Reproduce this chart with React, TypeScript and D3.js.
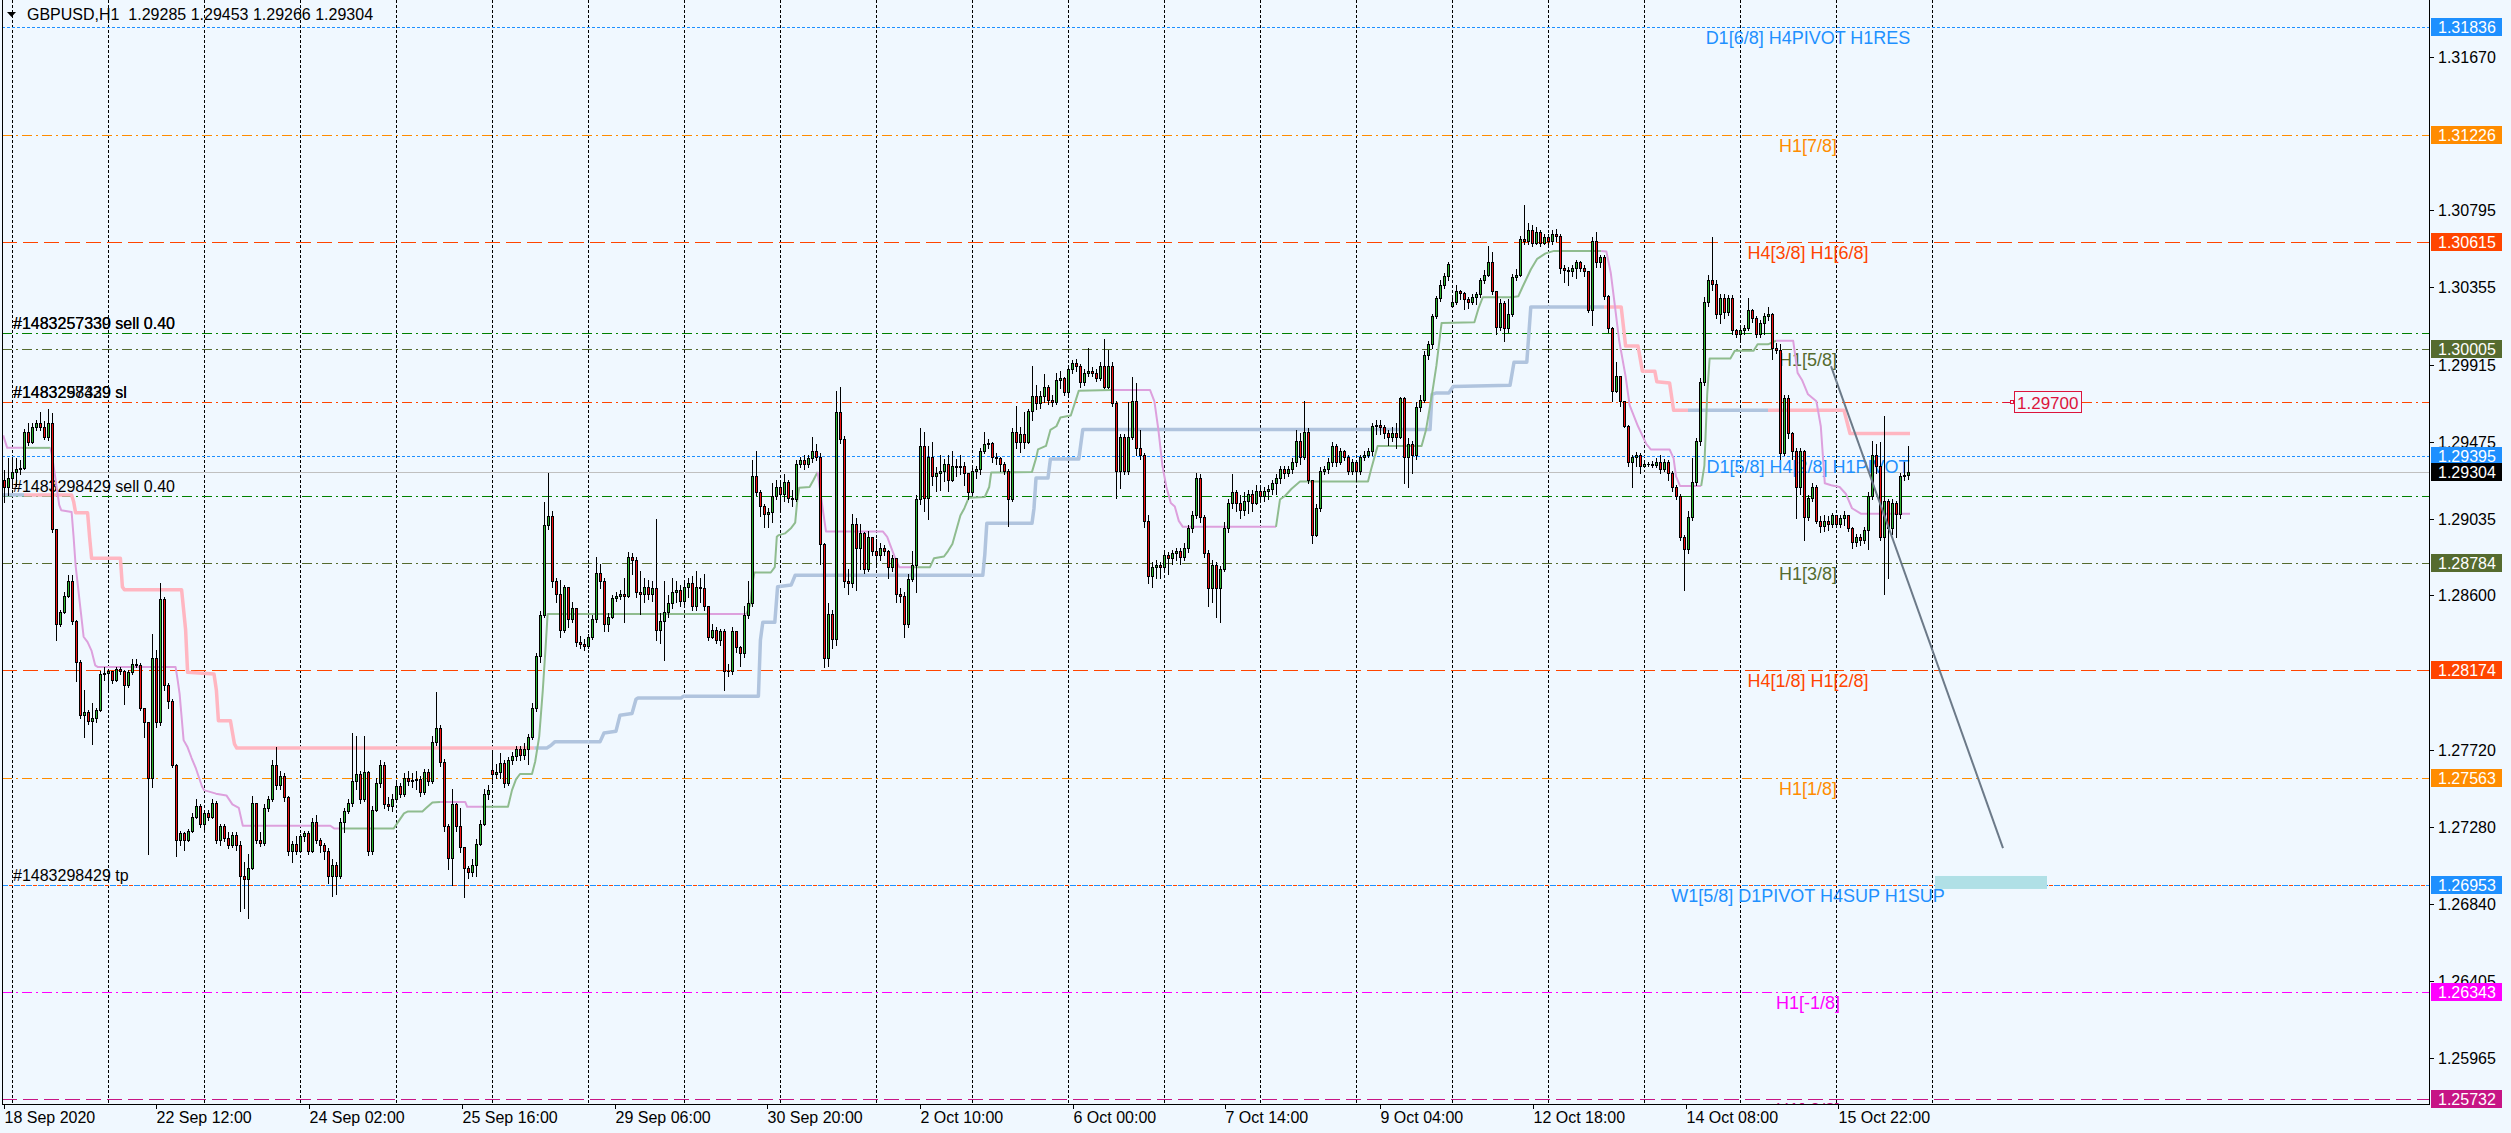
import React from "react";
import * as d3 from "d3";

const WIDTH = 2511;
const HEIGHT = 1133;
const FONT = "'Liberation Sans', Arial, sans-serif";

// ---------- data (prices as points above 1.20000, 1 point = 0.00001) ----------
const PRICE_BASE = 1.2;
const POINT = 0.00001;
const FIRST_BAR = -2; // bar index of the first candle (bar 0 = 21 Sep 00:00)
const firstOpenPts = 9258;
const gapOpens: [number, number][] = [[120, 7603], [360, 10250]];

const closePts = [
  9218,9270,9306,9320,9326,9533,9476,9562,9584,9560,
  9505,9584,8978,8436,8507,8598,8680,8456,8223,7918,
  7935,7887,7900,7948,8151,8160,8172,8121,8182,8172,
  8090,8162,8212,8205,7958,7877,7562,8243,7877,8578,
  8090,7999,7634,7207,7248,7207,7258,7339,7400,7298,
  7359,7340,7420,7207,7288,7217,7177,7238,7177,7004,
  6984,7045,7420,7207,7190,7390,7441,7634,7522,7573,
  7451,7146,7187,7146,7227,7248,7146,7309,7207,7177,
  7146,7004,7065,7004,7309,7370,7420,7542,7583,7441,
  7593,7146,7380,7532,7634,7410,7400,7441,7512,7471,
  7562,7542,7548,7555,7481,7593,7542,7766,7847,7654,
  7288,7106,7410,7288,7166,7045,7024,7065,7187,7298,
  7471,7490,7583,7593,7644,7532,7664,7684,7725,7694,
  7725,7796,7958,8253,8486,9004,9055,8680,8608,8405,
  8649,8466,8527,8334,8324,8314,8365,8466,8730,8680,
  8436,8476,8588,8598,8608,8598,8822,8802,8619,8609,
  8650,8609,8640,8406,8457,8507,8558,8619,8629,8568,
  8649,8670,8538,8650,8640,8538,8365,8406,8345,8396,
  8172,8172,8396,8304,8274,8487,8558,9279,9188,9107,
  9066,9076,9168,9218,9178,9249,9157,9147,9350,9371,
  9350,9381,9421,9391,8893,8243,8497,8350,9645,9493,
  8680,8670,9005,8873,8955,8751,8934,8853,8833,8873,
  8853,8761,8812,8609,8599,8436,8694,8772,9147,9452,
  9157,9391,9279,9300,9310,9350,9259,9340,9330,9335,
  9300,9188,9310,9320,9421,9462,9470,9391,9385,9350,
  9310,9147,9533,9472,9520,9472,9649,9736,9696,9736,
  9787,9716,9700,9828,9840,9757,9889,9923,9905,9818,
  9868,9878,9868,9838,9909,9787,9909,9696,9310,9503,
  9310,9503,9706,9442,9401,9025,8711,8760,8772,8760,
  8833,8812,8843,8853,8822,8873,8985,9056,9269,9046,
  8843,8640,8772,8640,8751,8985,9127,9188,9127,9086,
  9137,9178,9127,9198,9168,9198,9208,9239,9270,9320,
  9300,9320,9361,9482,9391,9533,9259,8944,9097,9310,
  9320,9361,9452,9361,9421,9391,9310,9361,9310,9391,
  9401,9421,9564,9574,9560,9523,9503,9523,9503,9726,
  9391,9462,9400,9675,9716,9970,10031,10193,10295,10366,
  10421,10488,10274,10335,10325,10290,10274,10300,10315,10396,
  10427,10498,10335,10132,10264,10122,10203,10417,10427,10630,
  10620,10681,10610,10670,10610,10640,10620,10660,10650,10467,
  10457,10447,10467,10498,10467,10447,10224,10620,10498,10528,
  10305,10122,9767,9848,9706,9564,9361,9391,9401,9340,
  9350,9350,9345,9361,9320,9361,9300,9218,9168,8934,
  8863,9046,9249,9482,9818,10274,10396,10376,10203,10295,
  10214,10295,10112,10092,10112,10122,10224,10183,10092,10153,
  10193,10203,10010,10000,9411,9726,9523,9421,9218,9421,
  9046,9157,9218,9025,8995,9025,9005,9056,9005,9040,
  9056,8985,8904,8934,8914,8975,9168,9401,9340,8934,
  9137,8985,9127,9066,9279,9285,9304,
];

const highPts = [
  9315,9383,9383,9383,9370,9548,9582,9582,9600,9647,
  9596,9662,9639,8980,8520,8620,8714,8714,8460,8230,
  8060,7950,7990,7960,8170,8190,8182,8170,8190,8190,
  8175,8175,8240,8240,8215,7960,7880,8380,8290,8669,
  8590,8100,8010,7640,7260,7250,7270,7360,7440,7410,
  7370,7380,7440,7430,7300,7300,7250,7250,7250,7200,
  7080,7130,7460,7360,7250,7410,7460,7660,7735,7600,
  7590,7460,7200,7230,7240,7260,7260,7330,7350,7220,
  7190,7160,7100,7080,7330,7390,7440,7816,7800,7600,
  7800,7600,7400,7560,7660,7650,7450,7470,7540,7530,
  7590,7600,7590,7600,7570,7610,7610,7800,8050,7860,
  7670,7300,7500,7420,7390,7160,7060,7100,7210,7320,
  7500,7520,7710,7640,7700,7660,7680,7710,7740,7740,
  7760,7810,7990,8270,8510,9130,9299,9080,8700,8690,
  8660,8600,8560,8530,8370,8350,8380,8490,8820,8780,
  8700,8500,8600,8620,8630,8700,8850,8840,8820,8740,
  8700,8690,8680,9036,8500,8680,8600,8700,8680,8660,
  8690,8700,8710,8740,8700,8720,8540,8440,8420,8410,
  8410,8210,8420,8400,8310,8540,8680,9371,9421,9200,
  9120,9100,9239,9259,9239,9290,9260,9200,9371,9390,
  9401,9401,9503,9462,9411,8900,8558,8520,9767,9787,
  9510,8751,9066,9040,9010,8960,8970,8920,8920,8900,
  8890,8860,8830,8800,8640,8620,8720,8853,9170,9553,
  9533,9452,9472,9330,9401,9380,9400,9421,9380,9400,
  9360,9300,9330,9340,9442,9533,9490,9472,9410,9390,
  9360,9320,9553,9680,9560,9645,9660,9909,9800,9767,
  9860,9800,9740,9868,9880,9846,9909,9940,9950,9919,
  9890,10011,9900,9890,9930,10061,10000,9930,9710,9520,
  9520,9700,9846,9810,9543,9410,9060,8790,8800,8790,
  8850,8850,8860,8870,8870,8900,9000,9080,9300,9290,
  9060,8860,8800,8790,8770,9020,9150,9290,9200,9170,
  9190,9200,9200,9230,9210,9220,9230,9260,9290,9340,
  9340,9340,9381,9543,9523,9706,9553,9240,9120,9330,
  9340,9381,9472,9462,9440,9430,9400,9380,9370,9401,
  9421,9440,9584,9600,9600,9570,9540,9560,9584,9730,
  9730,9500,9480,9700,9740,9990,10051,10203,10305,10396,
  10437,10498,10300,10366,10340,10330,10300,10320,10330,10410,
  10457,10589,10559,10300,10290,10280,10290,10430,10460,10650,
  10823,10721,10711,10700,10680,10660,10660,10680,10690,10660,
  10480,10470,10480,10510,10508,10480,10450,10640,10670,10540,
  10540,10310,10130,9929,9850,9710,9570,9400,9420,9410,
  9370,9360,9365,9381,9401,9380,9370,9310,9230,9180,
  8944,9080,9381,9500,9840,10300,10427,10640,10400,10315,
  10315,10310,10310,10120,10130,10140,10295,10234,10190,10170,
  10210,10244,10210,10040,10030,9740,9740,9530,9440,9440,
  9430,9170,9239,9230,9050,9060,9050,9070,9060,9060,
  9080,9060,8990,8950,8950,8990,9190,9482,9462,9472,
  9625,9150,9150,9140,9300,9361,9453,
];

const lowPts = [
  9135,9173,9211,9226,9290,9320,9460,9467,9540,9545,
  9490,9486,8964,8344,8426,8500,8590,8440,8111,7900,
  7796,7870,7755,7880,7940,8120,8060,8100,8115,8150,
  7980,8080,8150,8190,7945,7796,7126,7510,7850,7860,
  8060,7960,7620,7116,7180,7150,7200,7250,7330,7280,
  7260,7320,7330,7190,7180,7200,7160,7165,7150,6801,
  6821,6760,7040,7190,7170,7180,7370,7430,7500,7500,
  7430,7120,7080,7130,7140,7200,7130,7140,7190,7140,
  7100,6960,6890,6900,6990,7250,7360,7400,7500,7420,
  7430,7120,7130,7370,7510,7390,7380,7370,7430,7450,
  7460,7520,7510,7500,7460,7470,7520,7530,7750,7630,
  7260,7040,6950,7260,7140,6880,6990,7000,7000,7180,
  7290,7440,7530,7560,7560,7510,7520,7640,7660,7660,
  7670,7640,7780,7940,8220,8480,8980,8650,8560,8365,
  8390,8420,8450,8310,8300,8290,8300,8350,8450,8640,
  8400,8400,8470,8570,8580,8450,8590,8720,8590,8497,
  8560,8580,8570,8345,8330,8230,8480,8530,8560,8540,
  8540,8590,8520,8520,8560,8520,8345,8360,8330,8320,
  8061,8140,8150,8280,8200,8250,8470,8540,9170,9050,
  8990,8990,9020,9150,9090,9140,9130,9110,9140,9330,
  9320,9330,9360,9370,8780,8193,8200,8300,8320,9470,
  8650,8610,8650,8630,8750,8730,8740,8830,8780,8800,
  8830,8700,8740,8560,8560,8365,8420,8680,8620,9120,
  9080,9036,9230,9198,9200,9250,9198,9250,9280,9290,
  9230,9147,9170,9270,9290,9410,9440,9360,9350,9310,
  9290,8995,9140,9440,9420,9440,9470,9600,9660,9670,
  9700,9690,9680,9690,9780,9740,9740,9870,9880,9790,
  9800,9850,9850,9820,9830,9780,9780,9680,9157,9210,
  9290,9290,9490,9401,9380,8990,8670,8650,8700,8700,
  8740,8720,8780,8800,8780,8800,8850,8960,9040,9020,
  8820,8540,8560,8480,8447,8740,8960,9100,9080,9040,
  9060,9070,9080,9120,9130,9140,9150,9180,9180,9240,
  9270,9280,9300,9340,9350,9380,9240,8900,8940,9080,
  9290,9300,9340,9340,9350,9370,9290,9290,9250,9290,
  9370,9390,9400,9520,9520,9500,9460,9480,9440,9500,
  9239,9220,9300,9380,9650,9700,9950,10010,10180,10280,
  10350,10400,10244,10260,10290,10230,10240,10260,10260,10300,
  10380,10420,10320,10090,10112,10051,10100,10190,10400,10420,
  10600,10600,10590,10600,10590,10600,10600,10600,10620,10437,
  10386,10366,10420,10410,10450,10420,10214,10142,10470,10470,
  10290,10100,9706,9760,9680,9560,9340,9218,9340,9300,
  9330,9335,9330,9330,9300,9310,9260,9198,9147,8914,
  8629,8843,9030,9230,9460,9800,10250,10340,10180,10153,
  10180,10200,10090,10071,10060,10090,10110,10160,10071,10071,
  10090,10170,9950,9980,9380,9400,9500,9380,9040,9180,
  8914,9030,9140,9015,8960,8970,8975,8990,8990,8990,
  9000,8970,8873,8880,8890,8900,8863,9150,9300,8914,
  8609,8700,8950,8934,9040,9260,9266,
];

// fast trailing line: [bar, points, side]  side 1 = above price (plum), 0 = below (green)
const fastLine: [number, number, number][] = [
  [-2.2,9512,1],[-1.2,9441,1],[2.6,9441,0],[9.6,9441,1],[10,9400,1],[11.8,9116,1],[12.3,9086,1],[14.9,9076,1],
  [15.4,8933,1],[15.9,8771,1],[16.9,8568,1],[17.9,8365,1],[18.9,8334,1],[19.9,8284,1],[20.8,8202,1],[21.5,8192,1],
  [40.9,8192,1],[41.4,8121,1],[41.9,8040,1],[42.9,7776,1],[43.9,7735,1],[44.9,7674,1],[46,7613,1],[47.5,7512,1],
  [48,7491,1],[51,7471,1],[53.6,7461,1],[55.1,7410,1],[56.7,7390,1],[57.7,7288,1],[79.6,7288,1],[80.6,7272,1],
  [81.7,7272,0],[95.4,7272,0],[96.5,7309,0],[98,7359,0],[99,7370,0],[102.6,7370,0],[103.6,7390,0],[105.1,7420,0],
  [107,7424,1],[113.3,7424,1],[113.8,7396,1],[117.4,7396,0],[124,7396,0],[125,7491,0],[126,7552,0],[127,7583,0],
  [130,7583,0],[130.8,7654,0],[131.8,7796,0],[132.7,8060,0],[133.4,8304,0],[133.9,8494,0],[174,8494,1],[183.6,8494,0],
  [184.6,8548,0],[185.1,8670,0],[185.6,8731,0],[189.7,8731,0],[190.7,8761,0],[191.2,8934,0],[191.7,8944,0],[193.3,8954,0],
  [194.8,8985,0],[195.8,9015,0],[196.3,9137,0],[196.8,9214,0],[199.4,9218,0],[200.4,9259,0],[201.4,9304,1],[202.4,9137,1],
  [203.5,8965,1],[217.7,8965,1],[218.8,8934,1],[219.8,8873,1],[220.8,8812,1],[221.8,8761,1],[224.9,8761,0],[229.5,8761,0],
  [230.5,8812,0],[233,8822,0],[234,8853,0],[235.1,8893,0],[236.1,8975,0],[237.1,9056,0],[238.1,9097,0],[239.2,9157,0],
  [243.2,9161,0],[244.3,9218,0],[244.8,9300,0],[255,9304,0],[256,9381,0],[256.5,9432,0],[258.5,9452,0],[259.6,9543,0],
  [261.1,9564,0],[262.1,9614,0],[264.7,9625,0],[265.7,9696,0],[266.7,9767,0],[274.9,9771,1],[284.5,9771,1],[285.6,9706,1],
  [286.6,9543,1],[287.6,9340,1],[288.6,9218,1],[289.7,9127,1],[290.7,9107,1],[291.7,9025,1],[292.7,8991,1],[316,8991,0],
  [317,9147,0],[318.3,9168,0],[319.9,9208,0],[322,9249,0],[339,9249,0],[339.8,9320,0],[341.4,9452,0],[352.4,9452,0],
  [353.5,9543,0],[355,9746,0],[356.1,9909,0],[357.4,10153,0],[365.6,10157,0],[366.6,10234,0],[367.7,10299,0],[375,10299,0],
  [376.6,10305,0],[377.6,10356,0],[379.7,10457,0],[381.3,10518,0],[383.4,10549,0],[385.5,10563,0],[397.3,10563,1],[398.6,10559,1],
  [399.7,10437,1],[400.7,10254,1],[401.8,10051,1],[403.4,9848,1],[404.4,9685,1],[406.5,9564,1],[408.6,9462,1],[409.7,9432,1],
  [414.4,9432,1],[415.4,9381,1],[416,9279,1],[417,9224,1],[422.3,9224,0],[423.1,9340,0],[423.8,9746,0],[424.4,9950,0],
  [429.6,9950,0],[430.7,9994,0],[435.4,9994,0],[436.4,10031,0],[439,10031,0],[441,10051,1],[445.3,10051,1],[446.4,9868,1],
  [447.5,9828,1],[449,9746,1],[451.1,9706,1],[452.2,9564,1],[453.2,9239,1],[454.8,9228,1],[456.9,9218,1],[458.5,9178,1],
  [460,9097,1],[462.2,9066,1],[474.5,9066,1],
];

// slow trailing line: side 1 = above price (pink), 0 = below (light steel blue)
const slowLine: [number, number, number][] = [
  [-3,9173,0],[3,9173,1],[14.9,9173,1],[15.4,9136,1],[15.9,9071,1],[18.9,9071,1],[19.4,8933,1],[19.9,8812,1],
  [27.1,8812,1],[27.6,8649,1],[28.1,8633,1],[42.4,8633,1],[43.4,8405,1],[43.9,8162,1],[50.5,8152,1],[51.1,8060,1],
  [51.6,7887,1],[54.6,7887,1],[55.6,7755,1],[56.2,7731,1],[130.6,7731,0],[133.7,7731,0],[134.7,7745,0],[135.7,7766,0],
  [147,7766,0],[148,7816,0],[151,7827,0],[152,7918,0],[155,7928,0],[156,8009,0],[156.5,8016,0],[167.3,8016,0],
  [167.8,8026,0],[186.6,8026,0],[187.1,8345,0],[187.7,8447,0],[190.7,8447,0],[191.4,8650,0],[194.8,8660,0],[195.8,8715,0],
  [242.7,8715,0],[243.2,8833,0],[243.7,9011,0],[255,9011,0],[255.5,9097,0],[256,9269,0],[259,9269,0],[259.6,9377,0],
  [266.7,9377,0],[267.7,9545,0],[354.5,9545,0],[355,9746,0],[356.1,9754,0],[359.2,9754,0],[360.3,9790,0],[374.5,9797,0],
  [375.5,9929,0],[378.7,9929,0],[379.7,10244,0],[398,10244,1],[402.3,10244,1],[403.4,10021,1],[406.5,10021,1],[407.6,9878,1],
  [410.7,9878,1],[411.2,9818,1],[414.4,9811,1],[415.4,9655,1],[419,9655,0],[439,9655,1],[458,9655,1],[459.5,9523,1],
  [474.5,9523,1],
];

// Murrey-style levels
const levelPrices = [1.31836, 1.31226, 1.30615, 1.30005, 1.29395, 1.28784, 1.28174, 1.27563, 1.26953, 1.26343, 1.25732];
const levelLabels = [
  "D1[6/8] H4PIVOT H1RES", "H1[7/8]", "H4[3/8] H1[6/8]", "H1[5/8]", "D1[5/8] H4[2/8] H1PIVOT",
  "H1[3/8]", "H4[1/8] H1[2/8]", "H1[1/8]", "W1[5/8] D1PIVOT H4SUP H1SUP", "H1[-1/8]", "H1[-2/8]",
];
const levelKinds = ["blueDot", "orange", "red", "olive", "blueDot", "olive", "red", "orange", "blueDash", "magenta", "violet"];

// trade lines
const tradePrices = [1.30094, 1.297, 1.29165, 1.26953];
const tradeKinds = ["sell", "sl", "sell", "tp"];
const tradeLabels = [
  ["#1483257339 sell 0.40", "#1483257330 sell 0.40"],
  ["#1483298429 sl", "#1483257339 sl"],
  ["#1483298429 sell 0.40"],
  ["#1483298429 tp"],
];

const priceTicks = [1.3167, 1.30795, 1.30355, 1.29915, 1.29475, 1.29035, 1.286, 1.2772, 1.2728, 1.2684, 1.26405, 1.25965];
const timeTickBars = [-2, 36, 74.25, 112.5, 150.75, 188.75, 227, 265.25, 303.25, 342, 380.25, 418.5, 456.5];
const timeTickLabels = [
  "18 Sep 2020", "22 Sep 12:00", "24 Sep 02:00", "25 Sep 16:00", "29 Sep 06:00", "30 Sep 20:00",
  "2 Oct 10:00", "6 Oct 00:00", "7 Oct 14:00", "9 Oct 04:00", "12 Oct 18:00", "14 Oct 08:00", "15 Oct 22:00",
];
const dayBars = d3.range(0, 481, 24);

const trendLine: [number, number][] = [[454.75, 1.29907], [497.75, 1.27161]];
const alertPrice = 1.297;
const alertBar = 497.75;
const zoneBars = [480.75, 508.75];
const zonePrices = [1.27002, 1.26928];
const labelBar = 449;

// ---------- styles ----------
const kindStyle: Record<string, { color: string; dash: string }> = {
  blueDot: { color: "#1E90FF", dash: "3,2" },
  orange: { color: "#FF8C00", dash: "10,4,2,4" },
  red: { color: "#FF4500", dash: "15,6" },
  olive: { color: "#556B2F", dash: "10,4,2,4" },
  blueDash: { color: "#1E90FF", dash: "6,6" },
  magenta: { color: "#FF00FF", dash: "10,4,2,4" },
  violet: { color: "#C71585", dash: "15,6" },
};
const tagBg: Record<string, string> = {
  blueDot: "#1E90FF", orange: "#FF8C00", red: "#FF4500", olive: "#556B2F",
  blueDash: "#1E90FF", magenta: "#FF00FF", violet: "#C71585",
};

const toPrice = (p: number) => PRICE_BASE + p * POINT;

export default function App() {
  React.useEffect(() => {
    document.body.style.margin = "0";
  }, []);

  const plotL = 2, plotR = 2429, plotT = 0, plotB = 1104;
  const x = d3.scaleLinear().domain([0, 1]).range([12, 16]);
  const y = d3.scaleLinear().domain([1.25965, 1.3167]).range([1058, 56.6]);
  const ry = (p: number) => Math.round(y(p));

  const bars = closePts.map((c, k) => {
    const i = k + FIRST_BAR;
    const gap = gapOpens.find((g) => g[0] === i);
    const o = k === 0 ? firstOpenPts : gap ? gap[1] : closePts[k - 1];
    const h = Math.max(highPts[k], o, c);
    const l = Math.min(lowPts[k], o, c);
    return { i, o: toPrice(o), h: toPrice(h), l: toPrice(l), c: toPrice(c) };
  });
  const last = bars[bars.length - 1];

  const line = d3
    .line<[number, number, number]>()
    .x((d) => x(d[0]))
    .y((d) => y(toPrice(d[1])));

  const sideGroups = (pts: [number, number, number][]) => {
    const groups: { side: number; pts: [number, number, number][] }[] = [];
    let cur: { side: number; pts: [number, number, number][] } | null = null;
    for (let k = 0; k < pts.length - 1; k++) {
      const side = pts[k][2];
      if (!cur || cur.side !== side) {
        cur = { side, pts: [pts[k]] };
        groups.push(cur);
      }
      cur.pts.push(pts[k + 1]);
    }
    return groups;
  };

  const hline = (p: number) => Math.round(y(p)) + 0.5;

  return (
    <svg
      width={WIDTH}
      height={HEIGHT}
      style={{ position: "absolute", left: 0, top: 0, display: "block" }}
      fontFamily={FONT}
    >
      <defs>
        <clipPath id="plotClip">
          <rect x={plotL} y={plotT} width={plotR - plotL} height={plotB - plotT} />
        </clipPath>
      </defs>
      <rect x={0} y={0} width={WIDTH} height={HEIGHT} fill="#F0F8FF" />

      <g clipPath="url(#plotClip)">
        {/* vertical grid */}
        <g shapeRendering="crispEdges">
          {dayBars.map((b) => (
            <line
              key={"g" + b}
              x1={Math.round(x(b)) + 0.5}
              x2={Math.round(x(b)) + 0.5}
              y1={plotT}
              y2={plotB}
              stroke="#000"
              strokeWidth={1}
              strokeDasharray="3,2"
            />
          ))}

          {/* level lines */}
          {levelPrices.map((p, k) => (
            <line
              key={"lv" + k}
              x1={plotL}
              x2={plotR}
              y1={hline(p)}
              y2={hline(p)}
              stroke={kindStyle[levelKinds[k]].color}
              strokeWidth={1}
              strokeDasharray={kindStyle[levelKinds[k]].dash}
            />
          ))}
          {/* trade lines */}
          {tradePrices.map((p, k) => {
            const kind = tradeKinds[k];
            const color = kind === "sell" ? "#008000" : "#FF4500";
            const dash = kind === "tp" ? "4,8" : "10,4,2,4";
            return (
              <line
                key={"tr" + k}
                x1={plotL}
                x2={plotR}
                y1={hline(p)}
                y2={hline(p)}
                stroke={color}
                strokeWidth={1}
                strokeDasharray={dash}
                strokeDashoffset={kind === "tp" ? -7 : 0}
              />
            );
          })}
          {/* current price line */}
          <line x1={plotL} x2={plotR} y1={hline(last.c)} y2={hline(last.c)} stroke="#C0C0C0" strokeWidth={1} />
        </g>

        {/* zone rectangle */}
        <rect
          x={x(zoneBars[0])}
          y={y(zonePrices[0])}
          width={x(zoneBars[1]) - x(zoneBars[0])}
          height={y(zonePrices[1]) - y(zonePrices[0])}
          fill="#B0E0E6"
        />

        {/* level labels */}
        {levelPrices.map((p, k) => (
          <text
            key={"lt" + k}
            x={x(labelBar)}
            y={ry(p) + 17}
            textAnchor="middle"
            fontSize={18}
            fill={kindStyle[levelKinds[k]].color}
          >
            {levelLabels[k]}
          </text>
        ))}
        {/* trade labels */}
        {tradePrices.map((p, k) =>
          tradeLabels[k].map((t, j) => (
            <text key={"tl" + k + "_" + j} x={13} y={ry(p) - 4} fontSize={16} fill="#000">
              {t}
            </text>
          ))
        )}

        {/* slow trailing line */}
        {sideGroups(slowLine).map((g, k) => (
          <path
            key={"s" + k}
            d={line(g.pts) || ""}
            fill="none"
            stroke={g.side ? "#FFB6C1" : "#B0C4DE"}
            strokeWidth={3.5}
            strokeLinejoin="round"
          />
        ))}
        {/* fast trailing line */}
        {sideGroups(fastLine).map((g, k) => (
          <path
            key={"f" + k}
            d={line(g.pts) || ""}
            fill="none"
            stroke={g.side ? "#DDA0DD" : "#8FBC8F"}
            strokeWidth={2}
            strokeLinejoin="round"
          />
        ))}

        {/* candles */}
        <g shapeRendering="crispEdges">
          {bars.map((b) => {
            const cx = Math.round(x(b.i));
            const yH = ry(b.h), yL = ry(b.l), yO = ry(b.o), yC = ry(b.c);
            const top = Math.min(yO, yC), bot = Math.max(yO, yC);
            const up = b.c >= b.o;
            return (
              <g key={"c" + b.i}>
                <rect x={cx} y={yH} width={1} height={yL - yH + 1} fill="#000" />
                <rect x={cx - 1} y={top} width={3} height={Math.max(1, bot - top + 1)} fill="#000" />
                {bot - top >= 2 && (
                  <rect x={cx} y={top + 1} width={1} height={bot - top - 1} fill={up ? "#2DB52D" : "#F01010"} />
                )}
              </g>
            );
          })}
        </g>

        {/* trend line */}
        <line
          x1={x(trendLine[0][0])}
          y1={y(trendLine[0][1])}
          x2={x(trendLine[1][0])}
          y2={y(trendLine[1][1])}
          stroke="#6C7A89"
          strokeWidth={2}
        />

        {/* price alert label */}
        <line
          x1={x(alertBar)}
          x2={x(alertBar) + 11}
          y1={hline(alertPrice)}
          y2={hline(alertPrice)}
          stroke="#DC143C"
          strokeWidth={1}
        />
        <rect
          x={Math.round(x(alertBar)) + 7.5}
          y={ry(alertPrice) - 1.5}
          width={3}
          height={3}
          fill="#F0F8FF"
          stroke="#DC143C"
          strokeWidth={1}
        />
        <rect
          x={Math.round(x(alertBar)) + 11.5}
          y={ry(alertPrice) - 10.5}
          width={67}
          height={21}
          fill="#F0F8FF"
          stroke="#DC143C"
          strokeWidth={1}
        />
        <text x={Math.round(x(alertBar)) + 14} y={ry(alertPrice) + 6.5} fontSize={17} fill="#DC143C">
          {alertPrice.toFixed(5)}
        </text>
      </g>

      {/* header */}
      <polygon points="7,12 16,12 11.5,17" fill="#000" />
      <text x={27} y={20} fontSize={16} fill="#000">
        {"GBPUSD,H1\u00a0\u00a0" +
          [last.o, last.h, last.l, last.c].map((v) => v.toFixed(5)).join(" ")}
      </text>

      {/* frame */}
      <g shapeRendering="crispEdges">
        <line x1={plotL + 0.5} x2={plotL + 0.5} y1={0} y2={plotB} stroke="#000" strokeWidth={1} />
        <line x1={plotR + 0.5} x2={plotR + 0.5} y1={0} y2={plotB + 1} stroke="#000" strokeWidth={1} />
        <line x1={plotL} x2={plotR + 1} y1={plotB + 0.5} y2={plotB + 0.5} stroke="#000" strokeWidth={1} />
      </g>

      {/* price axis */}
      {priceTicks.map((p) => (
        <g key={"pt" + p}>
          <line x1={plotR} x2={plotR + 5} y1={hline(p)} y2={hline(p)} stroke="#000" strokeWidth={1} />
          <text x={2438} y={ry(p) + 6} fontSize={16} fill="#000">
            {p.toFixed(5)}
          </text>
        </g>
      ))}
      {levelPrices.map((p, k) => (
        <g key={"tag" + k}>
          <rect x={2431} y={ry(p) - 9} width={71} height={18} fill={tagBg[levelKinds[k]]} />
          <text x={2438} y={ry(p) + 6} fontSize={16} fill="#FFF">
            {p.toFixed(5)}
          </text>
        </g>
      ))}
      <rect x={2431} y={ry(last.c) - 9} width={71} height={18} fill="#000" />
      <text x={2438} y={ry(last.c) + 6} fontSize={16} fill="#FFF">
        {last.c.toFixed(5)}
      </text>

      {/* time axis */}
      {timeTickBars.map((b, k) => {
        const tx = Math.round(x(b)) + 0.5;
        return (
          <g key={"tt" + k}>
            <line x1={tx} x2={tx} y1={plotB} y2={plotB + 5} stroke="#000" strokeWidth={1} />
            <text x={tx} y={1123} fontSize={16} fill="#000">
              {timeTickLabels[k]}
            </text>
          </g>
        );
      })}
    </svg>
  );
}
